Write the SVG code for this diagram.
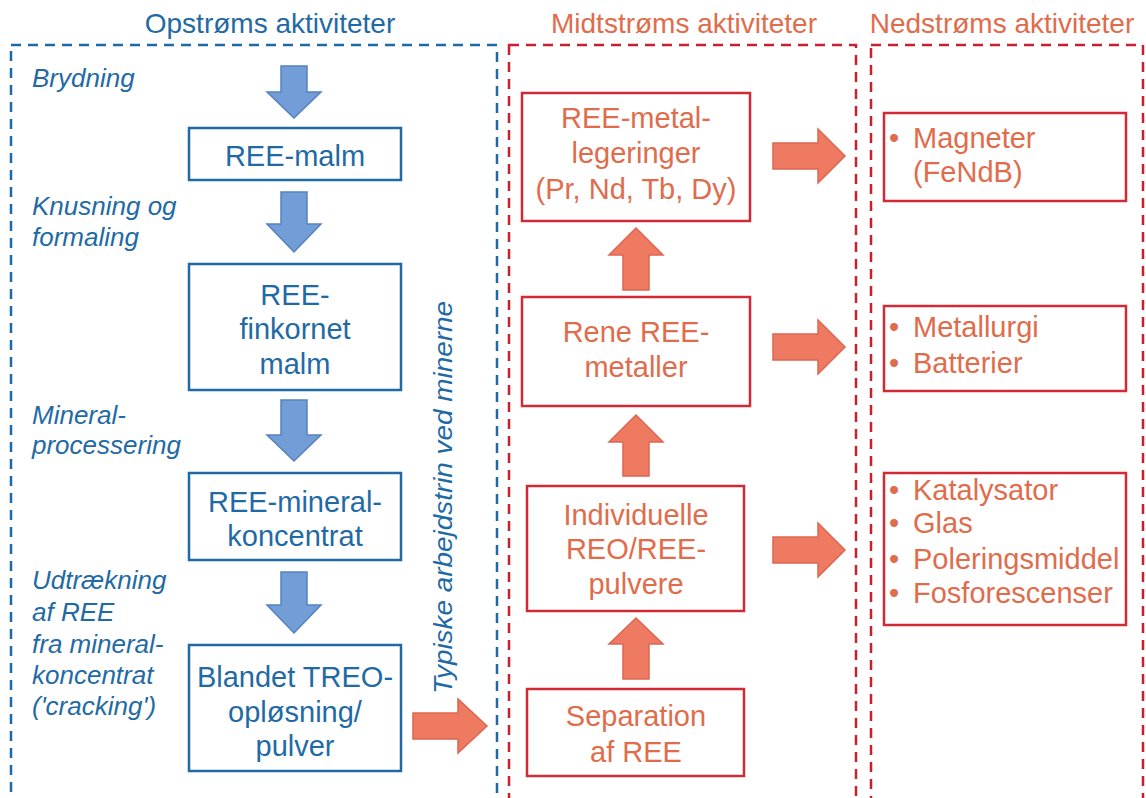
<svg xmlns="http://www.w3.org/2000/svg" width="1146" height="798" viewBox="0 0 1146 798">
<style>
.bg{fill:#ffffff}
.dashB{fill:none;stroke:#1f6aa5;stroke-width:2.5;stroke-dasharray:10 7}
.dashR{fill:none;stroke:#c8202f;stroke-width:2.5;stroke-dasharray:10 7}
.boxB{fill:#ffffff;stroke:#1f6aa5;stroke-width:2.5}
.boxR{fill:#ffffff;stroke:#cf2a36;stroke-width:2.5}
.head{font-family:"Liberation Sans",Arial,sans-serif;font-size:28px;text-anchor:middle}
.tB{font-family:"Liberation Sans",Arial,sans-serif;font-size:29px;fill:#1f6aa5;text-anchor:middle}
.tR{font-family:"Liberation Sans",Arial,sans-serif;font-size:29px;fill:#e06c4c;text-anchor:middle}
.tL{font-family:"Liberation Sans",Arial,sans-serif;font-size:29px;fill:#e06c4c}
.it{font-family:"Liberation Sans",Arial,sans-serif;font-size:26px;font-style:italic;fill:#1f6aa5}
.arB{fill:#739dd6;stroke:#5482c0;stroke-width:1.5}
.arR{fill:#ee7a62;stroke:#dc6650;stroke-width:1.5}
</style>
<rect class="bg" x="0" y="0" width="1146" height="798"/>

<g id="headings">
<text class="head" x="270" y="33" fill="#1f6aa5">Opstrøms aktiviteter</text>
<text class="head" x="684" y="33" fill="#e06c4c">Midtstrøms aktiviteter</text>
<text class="head" x="1002" y="33" fill="#e06c4c">Nedstrøms aktiviteter</text>
</g>

<g id="zones">
<rect class="dashB" x="11" y="45" width="486" height="780"/>
<rect class="dashR" x="509" y="45" width="347" height="780"/>
<rect class="dashR" x="871" y="45" width="272" height="780"/>
</g>

<g id="step-labels">
<text class="it" x="32" y="87">Brydning</text>
<text class="it" x="32" y="215">Knusning og</text>
<text class="it" x="32" y="246">formaling</text>
<text class="it" x="32" y="424">Mineral-</text>
<text class="it" x="32" y="454">processering</text>
<text class="it" x="32" y="589">Udtrækning</text>
<text class="it" x="32" y="621">af REE</text>
<text class="it" x="32" y="653">fra mineral-</text>
<text class="it" x="32" y="684">koncentrat</text>
<text class="it" x="32" y="715">('cracking')</text>
<text class="it" transform="translate(452,694) rotate(-90)" x="0" y="0" textLength="393" lengthAdjust="spacingAndGlyphs">Typiske arbejdstrin ved minerne</text>
</g>

<g id="connectors">
<path class="arB" d="M281,66 H307 V92 H321 L294,118 L267,92 H281 Z"/>
<path class="arB" d="M281,192 H307 V224 H321 L294,252 L267,224 H281 Z"/>
<path class="arB" d="M281,400 H307 V435 H321 L294,461 L267,435 H281 Z"/>
<path class="arB" d="M281,572 H307 V605 H321 L294,633 L267,605 H281 Z"/>
<path class="arR" d="M413,713 H458 V699 L487,726 L458,753 V739 H413 Z"/>
<path class="arR" d="M623,679 V644 H609 L636,618 L663,644 H649 V679 Z"/>
<path class="arR" d="M623,476 V442 H609 L636,415 L663,442 H649 V476 Z"/>
<path class="arR" d="M623,290 V255 H609 L636,228 L663,255 H649 V290 Z"/>
<path class="arR" d="M773,143 H818 V129 L845,156 L818,183 V169 H773 Z"/>
<path class="arR" d="M773,334 H818 V320 L845,347 L818,374 V360 H773 Z"/>
<path class="arR" d="M773,537 H818 V523 L845,550 L818,577 V563 H773 Z"/>
</g>

<g id="ree-malm">
<rect class="boxB" x="189" y="128" width="212" height="52"/>
<text class="tB" x="295" y="166">REE-malm</text>
</g>
<g id="ree-finkornet">
<rect class="boxB" x="189" y="264" width="212" height="126"/>
<text class="tB" x="295" y="305">REE-</text>
<text class="tB" x="295" y="339">finkornet</text>
<text class="tB" x="295" y="374">malm</text>
</g>
<g id="ree-mineral">
<rect class="boxB" x="189" y="473" width="212" height="87"/>
<text class="tB" x="295" y="512">REE-mineral-</text>
<text class="tB" x="295" y="546">koncentrat</text>
</g>
<g id="blandet-treo">
<rect class="boxB" x="189" y="645" width="212" height="126"/>
<text class="tB" x="295" y="687">Blandet TREO-</text>
<text class="tB" x="295" y="722">opløsning/</text>
<text class="tB" x="295" y="756">pulver</text>
</g>

<g id="separation">
<rect class="boxR" x="527" y="689" width="217" height="87"/>
<text class="tR" x="636" y="726">Separation</text>
<text class="tR" x="636" y="762">af REE</text>
</g>
<g id="individuelle">
<rect class="boxR" x="527" y="486" width="217" height="125"/>
<text class="tR" x="636" y="525">Individuelle</text>
<text class="tR" x="636" y="559">REO/REE-</text>
<text class="tR" x="636" y="594">pulvere</text>
</g>
<g id="rene-metaller">
<rect class="boxR" x="522" y="297" width="228" height="109"/>
<text class="tR" x="636" y="342">Rene REE-</text>
<text class="tR" x="636" y="377">metaller</text>
</g>
<g id="metal-legeringer">
<rect class="boxR" x="522" y="93" width="228" height="128"/>
<text class="tR" x="636" y="128">REE-metal-</text>
<text class="tR" x="636" y="163">legeringer</text>
<text class="tR" x="636" y="199">(Pr, Nd, Tb, Dy)</text>
</g>

<g id="magneter">
<rect class="boxR" x="884" y="113" width="242" height="88"/>
<text class="tL" x="889" y="148">•</text>
<text class="tL" x="913" y="148">Magneter</text>
<text class="tL" x="913" y="182">(FeNdB)</text>
</g>
<g id="metallurgi">
<rect class="boxR" x="884" y="306" width="242" height="85"/>
<text class="tL" x="889" y="337">•</text>
<text class="tL" x="913" y="337">Metallurgi</text>
<text class="tL" x="889" y="373">•</text>
<text class="tL" x="913" y="373">Batterier</text>
</g>
<g id="katalysator">
<rect class="boxR" x="884" y="473" width="242" height="152"/>
<text class="tL" x="889" y="500">•</text>
<text class="tL" x="913" y="500">Katalysator</text>
<text class="tL" x="889" y="533">•</text>
<text class="tL" x="913" y="533">Glas</text>
<text class="tL" x="889" y="569">•</text>
<text class="tL" x="913" y="569">Poleringsmiddel</text>
<text class="tL" x="889" y="603">•</text>
<text class="tL" x="913" y="603">Fosforescenser</text>
</g>
</svg>
